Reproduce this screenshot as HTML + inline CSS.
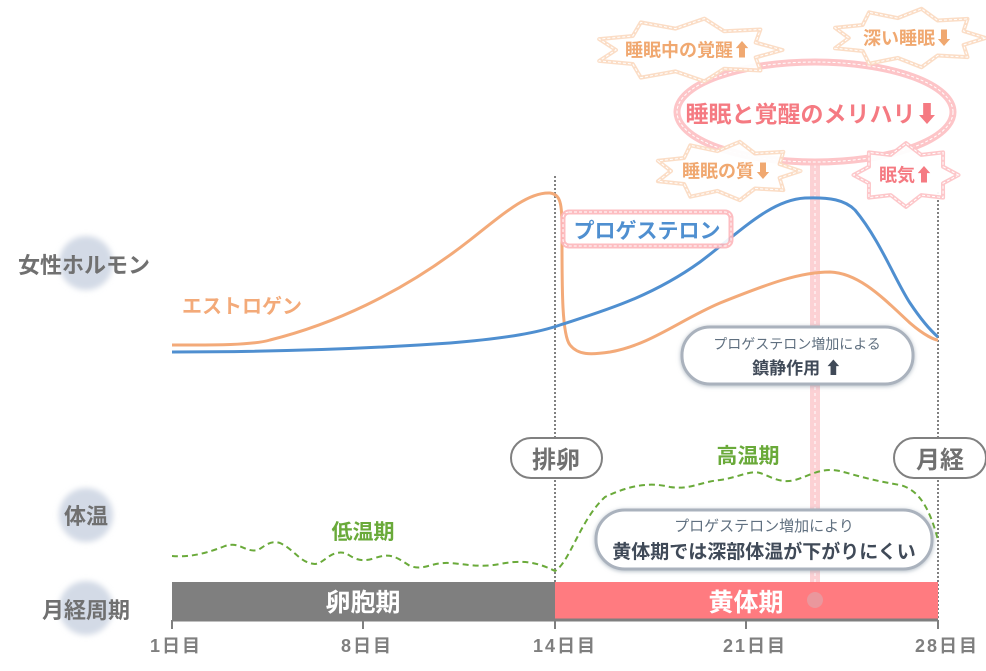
<!DOCTYPE html>
<html><head><meta charset="utf-8"><style>
body{margin:0;background:#fff;}
svg{display:block;font-family:"Liberation Sans","Noto Sans CJK JP",sans-serif;font-weight:bold;}
</style></head><body>
<svg id="s" width="986" height="671" viewBox="0 0 986 671" xmlns="http://www.w3.org/2000/svg">
<defs>
<filter id="blur" x="-50%" y="-50%" width="200%" height="200%"><feGaussianBlur stdDeviation="3"/></filter>
<filter id="sh" x="-20%" y="-30%" width="140%" height="160%"><feDropShadow dx="0" dy="1" stdDeviation="2" flood-color="#8090a0" flood-opacity="0.6"/></filter>
</defs>
<circle cx="86" cy="263" r="27" fill="#d3dae6" filter="url(#blur)"/>
<circle cx="86" cy="515" r="27" fill="#d3dae6" filter="url(#blur)"/>
<circle cx="86" cy="608" r="27" fill="#d3dae6" filter="url(#blur)"/>
<text x="84" y="273" font-size="22" fill="#707070" text-anchor="middle">女性ホルモン</text>
<text x="86" y="524" font-size="22" fill="#707070" text-anchor="middle">体温</text>
<text x="86" y="618" font-size="22" fill="#707070" text-anchor="middle">月経周期</text>

<line x1="555" y1="176" x2="555" y2="620" stroke="#808080" stroke-width="2" stroke-dasharray="2,2"/>
<line x1="938" y1="192" x2="938" y2="620" stroke="#808080" stroke-width="2" stroke-dasharray="2,2"/>

<rect x="810" y="165" width="10" height="435" fill="#fcc9cc" opacity="0.85"/>
<line x1="815" y1="165" x2="815" y2="600" stroke="#fff" stroke-width="1" stroke-dasharray="3,3"/>

<rect x="172" y="582" width="383" height="38" fill="#7f7f7f"/>
<rect x="555" y="582" width="383" height="38" fill="#ff7b80"/>
<text x="363" y="611" font-size="25" fill="#fff" text-anchor="middle">卵胞期</text>
<text x="746" y="611" font-size="25" fill="#fff" text-anchor="middle">黄体期</text>
<circle cx="815" cy="600" r="8" fill="#e89aa0" opacity="0.9"/>
<line x1="172" y1="620" x2="938" y2="620" stroke="#7f7f7f" stroke-width="3"/>
<g stroke="#7f7f7f" stroke-width="2"><line x1="172" y1="620" x2="172" y2="629"/><line x1="363" y1="620" x2="363" y2="629"/><line x1="555" y1="620" x2="555" y2="629"/><line x1="746" y1="620" x2="746" y2="629"/><line x1="938" y1="620" x2="938" y2="629"/></g>
<g font-size="18" fill="#7f7f7f" text-anchor="middle" letter-spacing="2"><text x="176" y="652">1日目</text><text x="367" y="652">8日目</text><text x="565" y="652">14日目</text><text x="755" y="652">21日目</text><text x="947" y="652">28日目</text></g>

<path d="M172,556 C185,557 200,556 225,546 C240,541 245,553 258,550 C265,546 270,540 280,543 C295,550 300,563 315,564 C325,563 330,550 345,553 C352,556 358,564 375,558 C390,553 395,556 410,566 C425,571 430,562 450,563 C465,564 480,568 500,564 C520,560 535,561 555,571 C570,562 580,520 605,497 C630,485 650,482 670,487 C690,490 700,482 720,480 C740,477 750,470 760,473 C770,476 780,484 795,480 C810,476 820,467 840,471 C855,475 870,480 900,485 C920,490 930,510 938,540" fill="none" stroke="#6aaa3a" stroke-width="2" stroke-dasharray="6,4"/>
<text x="363" y="539" font-size="21" fill="#6aaa3a" text-anchor="middle">低温期</text>
<text x="748" y="463" font-size="21" fill="#6aaa3a" text-anchor="middle">高温期</text>

<path d="M172,345 C200,345 250,346 270,340 C330,325 400,295 470,240 C510,208 530,192 550,193 C562,195 562,205 562,240 C562,290 562,335 570,345 C578,355 590,355 610,352 C650,345 680,320 720,303 C770,283 800,272 830,272 C860,273 885,300 910,323 C925,336 935,340 938,340" fill="none" stroke="#f3aa79" stroke-width="3"/>
<path d="M172,352 C250,352 350,350 450,343 C510,338 540,332 560,325 C600,312 650,298 700,262 C740,232 770,200 805,198 C830,197 845,200 855,210 C880,240 895,280 910,303 C920,318 930,330 938,337" fill="none" stroke="#4f8fd0" stroke-width="3"/>
<text x="182" y="313" font-size="20" fill="#f3aa79">エストロゲン</text>

<rect x="563" y="212" width="168" height="34" rx="6" fill="#fff" stroke="#fdb6bb" stroke-width="5" opacity="0.9"/>
<rect x="563" y="212" width="168" height="34" rx="6" fill="none" stroke="#fff" stroke-width="1" stroke-dasharray="3,2"/>
<text x="647" y="238" font-size="21" fill="#4f8fd0" text-anchor="middle">プロゲステロン</text>

<rect x="511" y="438" width="91" height="40" rx="20" fill="#fff" stroke="#808080" stroke-width="2"/>
<text x="556" y="468" font-size="24" fill="#707070" text-anchor="middle">排卵</text>
<rect x="894" y="438" width="92" height="40" rx="20" fill="#fff" stroke="#808080" stroke-width="2"/>
<text x="940" y="468" font-size="24" fill="#707070" text-anchor="middle">月経</text>

<rect x="682" y="327" width="231" height="57" rx="28" fill="#fff" stroke="#aab2bd" stroke-width="3" filter="url(#sh)"/>
<text x="797" y="349" font-size="14" font-weight="normal" fill="#607080" text-anchor="middle">プロゲステロン増加による</text>
<text x="797" y="374" font-size="17" fill="#404a58" text-anchor="middle">鎮静作用 ⬆</text>
<rect x="596" y="510" width="336" height="59" rx="29" fill="#fff" stroke="#aab2bd" stroke-width="3" filter="url(#sh)"/>
<text x="764" y="531" font-size="15" font-weight="normal" fill="#607080" text-anchor="middle">プロゲステロン増加により</text>
<text x="764" y="558" font-size="19" fill="#404a58" text-anchor="middle">黄体期では深部体温が下がりにくい</text>

<ellipse cx="815" cy="112" rx="138" ry="50" fill="#fff" stroke="#fdc5c8" stroke-width="7"/>
<ellipse cx="815" cy="112" rx="138" ry="50" fill="none" stroke="#fff" stroke-width="1" stroke-dasharray="3,2"/>
<text x="812" y="122" font-size="23" fill="#f57a82" text-anchor="middle">睡眠と覚醒のメリハリ⬇</text>

<g id="stars"></g>
</svg>
<script>
function star(cx,cy,rx,ry,n,col,txt,tc,fs){
 var pts=[];for(var i=0;i<2*n;i++){var a=Math.PI*i/n;var k=i%2?0.8:1.05;pts.push((cx+Math.cos(a)*rx*k).toFixed(1)+','+(cy+Math.sin(a)*ry*(i%2?0.75:1.1)).toFixed(1));}
 var g=document.getElementById('stars');
 g.insertAdjacentHTML('beforeend','<polygon points="'+pts.join(' ')+'" fill="#fff" stroke="'+col+'" stroke-width="4" stroke-linejoin="round" opacity="0.95"/><polygon points="'+pts.join(' ')+'" fill="none" stroke="#fff" stroke-width="1" stroke-dasharray="3,2"/><text x="'+cx+'" y="'+(cy+fs*0.36)+'" font-size="'+fs+'" fill="'+tc+'" text-anchor="middle">'+txt+'</text>');
}
star(688,50,90,29,9,'#fbdcc4','睡眠中の覚醒⬆','#f0a870',18);
star(908,38,74,27,9,'#fbdcc4','深い睡眠⬇','#f0a870',18);
star(727,171,70,27,9,'#fbdcc4','睡眠の質⬇','#f0a870',18);
star(906,175,50,29,8,'#fdc5c8','眠気⬆','#f57a82',18);
</script>
</body></html>
